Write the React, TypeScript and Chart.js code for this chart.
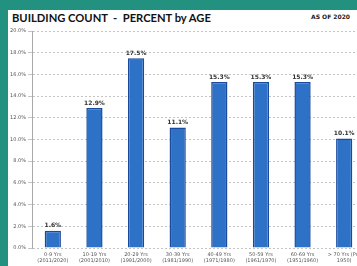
import React, { useEffect, useRef } from "react";
import { Chart, registerables } from "chart.js";

Chart.register(...registerables);

const categories: string[][] = [
  ["0-9 Yrs", "(2011/2020)"],
  ["10-19 Yrs", "(2001/2010)"],
  ["20-29 Yrs", "(1991/2000)"],
  ["30-39 Yrs", "(1981/1990)"],
  ["40-49 Yrs", "(1971/1980)"],
  ["50-59 Yrs", "(1961/1970)"],
  ["60-69 Yrs", "(1951/1960)"],
  ["> 70 Yrs (Pre", "1950)"],
];
const percentValues: number[] = [1.6, 12.9, 17.5, 11.1, 15.3, 15.3, 15.3, 10.1];
const yTicks: number[] = [0, 2, 4, 6, 8, 10, 12, 14, 16, 18, 20];

const valueLabelPlugin = {
  id: "valueLabels",
  afterDatasetsDraw(chart: any) {
    const ctx = chart.ctx;
    const meta = chart.getDatasetMeta(0);
    ctx.save();
    ctx.font = "bold 6px 'Liberation Sans Narrow', 'DejaVu Sans', sans-serif";
    ctx.fillStyle = "#333";
    ctx.textAlign = "center";
    ctx.textBaseline = "bottom";
    meta.data.forEach((el: any, i: number) => {
      ctx.fillText(percentValues[i].toFixed(1) + "%", el.x, el.y - 2);
    });
    ctx.restore();
  },
};

export default function App() {
  const ref = useRef<HTMLCanvasElement | null>(null);
  useEffect(() => {
    if (!ref.current) return;
    const chart = new Chart(ref.current, {
      type: "bar",
      data: {
        labels: categories,
        datasets: [
          {
            data: percentValues,
            backgroundColor: "#2e72c8",
            borderColor: "#1a4a9c",
            borderWidth: 1.5,
            barPercentage: 0.78,
            categoryPercentage: 0.5,
          },
        ],
      },
      options: {
        responsive: false,
        animation: false,
        layout: { padding: { top: 5, right: 0, left: 0, bottom: 0 } },
        plugins: { legend: { display: false }, tooltip: { enabled: false } },
        scales: {
          x: {
            grid: { display: false, drawTicks: false, tickLength: 0 },
            border: { display: false },
            ticks: {
              color: "#555",
              font: { size: 5, family: "'DejaVu Sans', sans-serif", lineHeight: 1.3 },
              maxRotation: 0,
              autoSkip: false,
              padding: 3,
            },
            afterFit: (s: any) => {
              s.height = 18;
            },
          },
          y: {
            min: 0,
            max: 20,
            afterBuildTicks: (s: any) => {
              s.ticks = yTicks.map((v) => ({ value: v }));
            },
            grid: { color: "#b5b5b5", lineWidth: 0.8, tickLength: 4 },
            border: { display: true, color: "#a8a8a8", dash: [2, 2] },
            ticks: {
              color: "#555",
              font: { size: 5, family: "'DejaVu Sans', sans-serif" },
              padding: 2,
              callback: (v: any) => Number(v).toFixed(1) + "%",
            },
            afterFit: (s: any) => {
              s.width = 24;
            },
          },
        },
      },
      plugins: [valueLabelPlugin],
    });
    return () => chart.destroy();
  }, []);

  return (
    <div
      style={{
        position: "fixed",
        left: 0,
        top: 0,
        width: 357,
        height: 266,
        overflow: "hidden",
        background: "#23917f",
      }}
    >
      <div
        style={{
          position: "absolute",
          left: 8,
          top: 10,
          width: 400,
          height: 300,
          background: "#ffffff",
        }}
      />
      <div
        style={{
          position: "absolute",
          left: 12,
          top: 10,
          fontFamily: "Lato, 'Open Sans', sans-serif",
          fontWeight: 700,
          fontSize: 11.2,
          color: "#111",
          whiteSpace: "pre",
          lineHeight: "15px",
        }}
      >
        {"BUILDING COUNT  -  PERCENT by AGE"}
      </div>
      <div
        style={{
          position: "absolute",
          left: 311,
          top: 13,
          fontFamily: "'Liberation Sans Narrow', 'DejaVu Sans', sans-serif",
          fontWeight: 700,
          fontSize: 6,
          color: "#222",
          whiteSpace: "pre",
          lineHeight: "8px",
        }}
      >
        AS OF 2020
      </div>
      <canvas
        ref={ref}
        width={357}
        height={240}
        style={{ position: "absolute", left: 8, top: 26, width: 357, height: 240 }}
      />
    </div>
  );
}
